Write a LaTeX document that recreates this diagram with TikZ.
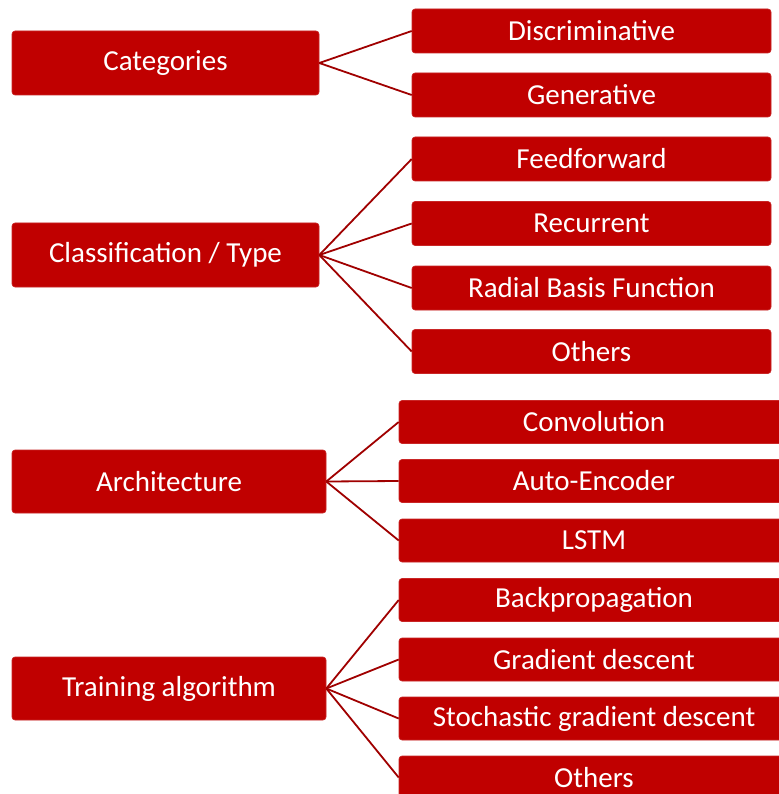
\documentclass[tikz,border=0pt]{standalone}
\usepackage{fontspec}
\setmainfont{Carlito}
\definecolor{boxred}{HTML}{C00000}
\definecolor{linered}{HTML}{A00000}
\tikzset{
  box/.style={fill=boxred, draw=boxred!85!white, line width=0.6pt, rounded corners=3pt, text=white, inner sep=0pt,
    font=\fontsize{29}{32}\selectfont},
  parent/.style={box, minimum width=307pt, minimum height=64pt},
  parentb/.style={box, minimum width=314pt, minimum height=63pt},
  childa/.style={box, minimum width=359pt, minimum height=44pt},
  childb/.style={box, minimum width=390pt, minimum height=43pt},
  conn/.style={draw=linered, line width=1.8pt}
}
\begin{document}
\begin{tikzpicture}[x=1pt,y=-1pt]
\useasboundingbox (0,0) rectangle (778,794);
\fill[white] (0,0) rectangle (778,794);

\node[parent] (cat) at (165.5,63) {Categories};
\node[childa] (disc) at (591.5,31) {Discriminative};
\node[childa] (gen) at (591.5,95) {Generative};

\node[parent] (cls) at (165.5,255) {Classification / Type};
\node[childa] (ff) at (591.5,159) {Feedforward};
\node[childa] (rec) at (591.5,223.5) {Recurrent};
\node[childa] (rbf) at (591.5,288) {Radial Basis Function};
\node[childa] (oth1) at (591.5,351.5) {Others};

\node[parentb] (arch) at (169,481.5) {Architecture};
\node[childb] (conv) at (594,422) {Convolution};
\node[childb] (ae) at (594,481) {Auto-Encoder};
\node[childb] (lstm) at (594,540.5) {LSTM};

\node[parentb] (train) at (169,688.5) {Training algorithm};
\node[childb] (bp) at (594,600) {Backpropagation};
\node[childb] (gd) at (594,659.5) {Gradient descent};
\node[childb] (sgd) at (594,718.5) {Stochastic gradient descent};
\node[childb] (oth2) at (594,777.5) {Others};

\foreach \c in {disc,gen} \draw[conn] (cat.east) -- (\c.west);
\foreach \c in {ff,rec,rbf,oth1} \draw[conn] (cls.east) -- (\c.west);
\foreach \c in {conv,ae,lstm} \draw[conn] (arch.east) -- (\c.west);
\foreach \c in {bp,gd,sgd,oth2} \draw[conn] (train.east) -- (\c.west);
\end{tikzpicture}
\end{document}
